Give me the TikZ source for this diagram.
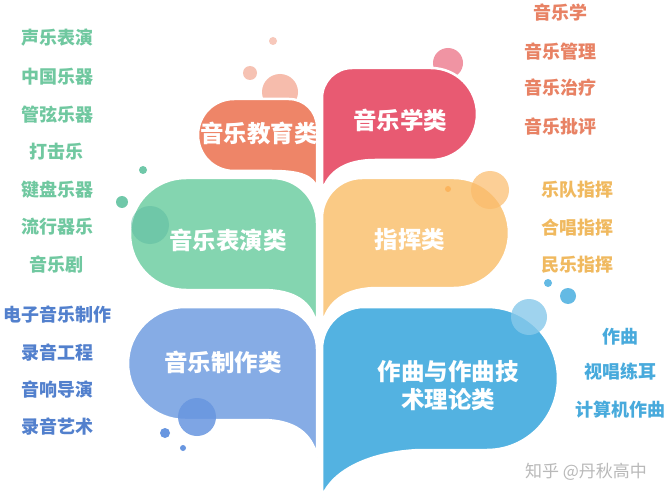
\documentclass[tikz,border=0pt]{standalone}
\usepackage{fontspec}
\setmainfont{Noto Sans CJK SC}
\definecolor{educ}{RGB}{238,133,104}
\definecolor{muxc}{RGB}{232,90,114}
\definecolor{perc}{RGB}{132,213,176}
\definecolor{conc}{RGB}{250,202,133}
\definecolor{proc}{RGB}{134,172,229}
\definecolor{comc}{RGB}{83,178,225}
\definecolor{prodot}{RGB}{104,150,224}
\definecolor{pertext}{RGB}{112,200,160}
\definecolor{protext}{RGB}{82,128,205}
\definecolor{muxtext}{RGB}{232,130,100}
\definecolor{context}{RGB}{240,185,95}
\definecolor{comtext}{RGB}{72,170,220}

\begin{document}
\begin{tikzpicture}[line cap=round,line join=round,x=1pt,y=-1pt,
	blob/.style={draw=white,line width=2.5pt},
	title/.style={text=white,font=\fontsize{23.5}{28}\selectfont\bfseries,align=center},
	item/.style={font=\fontsize{18}{20}\selectfont\bfseries}]
	\useasboundingbox (0,0) rectangle (667,500);
	\fill [color=white] (0,0) rectangle (667,500);
	% dots behind the top bubbles
	\fill [color=educ!55] (280,92) circle (18);
	\fill [color=educ!50] (250,73) circle (7);
	\fill [color=educ!45] (273,41) circle (4);
	\fill [color=muxc!65] (448,63) circle (15);
	% bubbles
	\filldraw [blob,fill=educ] (317,189) -- (317,127) .. controls (317,111.5) and (304.5,99) .. (289,99) -- (234,99) .. controls (214,99) and (198,115) .. (198,135) .. controls (198,155) and (214,171) .. (234,171) -- (272,171) .. controls (300,171) and (314,176) .. (317,189) -- cycle;
	\filldraw [blob,fill=muxc] (322,192) -- (322,98) .. controls (322,81.5) and (335.5,68) .. (352,68) -- (431,68) .. controls (456.4,68) and (477,88.6) .. (477,114) .. controls (477,139.4) and (456.4,160) .. (431,160) -- (375,160) .. controls (345,160) and (328,172) .. (322,192) -- cycle;
	\filldraw [blob,fill=perc] (317,326) -- (317,223) .. controls (317,198) and (297,178) .. (272,178) -- (186,178) .. controls (155,178) and (130,203) .. (130,234) .. controls (130,265) and (155,290) .. (186,290) -- (262,290) .. controls (295,290) and (312,302) .. (317,326) -- cycle;
	\filldraw [blob,fill=conc] (322,326) -- (322,218) .. controls (322,196) and (340,178) .. (362,178) -- (454,178) .. controls (484.4,178) and (509,202.6) .. (509,233) .. controls (509,263.4) and (484.4,288) .. (454,288) -- (378,288) .. controls (345,288) and (327,302) .. (322,326) -- cycle;
	\filldraw [blob,fill=proc] (317,457) -- (317,349) .. controls (317,326) and (298,307) .. (275,307) -- (185,307) .. controls (153.8,307) and (128,332.3) .. (128,363.5) .. controls (128,394.7) and (153.8,420) .. (185,420) -- (262,420) .. controls (295,420) and (312,434) .. (317,457) -- cycle;
	\filldraw [blob,fill=comc] (322,497) -- (322,349) .. controls (322,326) and (341,307) .. (364,307) -- (487,307) .. controls (526.5,307) and (558,339) .. (558,378.5) .. controls (558,418) and (526.5,450) .. (487,450) -- (420,450) .. controls (370,452) and (333,470) .. (322,497) -- cycle;
	% dots on top
	\fill [color=conc!80!orange,opacity=0.7] (490,190) circle (19);
	\fill [color=conc!70!orange] (448,189) circle (3);
	\fill [color=perc!70!teal,opacity=0.5] (150,225) circle (19);
	\fill [color=perc!85!teal] (122,202) circle (6);
	\fill [color=perc!85!teal] (143,170) circle (4);
	\fill [color=prodot,opacity=0.85] (197,417) circle (19);
	\fill [color=prodot] (165,433) circle (5);
	\fill [color=prodot] (183,448) circle (3);
	\fill [color=comc!70,opacity=0.8] (529,317) circle (18);
	\fill [color=comc!90] (568,296) circle (8);
	\fill [color=comc!90] (548,283) circle (4);
	% titles
	\node [title] (edu) at (259,133) {音乐教育类};
	\node [title] (mux) at (400,120) {音乐学类};
	\node [title] (per) at (228,240) {音乐表演类};
	\node [title] (con) at (410,240) {指挥类};
	\node [title] (pro) at (223,362) {音乐制作类};
	\node [title] (com) at (448,386) {作曲与作曲技\\术理论类};
	% lists
	\node [item,text=pertext] (per1) at (57,38) {声乐表演};
	\node [item,text=pertext] (per2) at (57,77) {中国乐器};
	\node [item,text=pertext] (per3) at (57,115) {管弦乐器};
	\node [item,text=pertext] (per4) at (57,152) {打击乐};
	\node [item,text=pertext] (per5) at (57,190) {键盘乐器};
	\node [item,text=pertext] (per6) at (57,227) {流行器乐};
	\node [item,text=pertext] (per7) at (57,265) {音乐剧};
	\node [item,text=protext] (pro1) at (57,315) {电子音乐制作};
	\node [item,text=protext] (pro2) at (57,353) {录音工程};
	\node [item,text=protext] (pro3) at (57,390) {音响导演};
	\node [item,text=protext] (pro4) at (57,427) {录音艺术};
	\node [item,text=muxtext] (mux1) at (560,13) {音乐学};
	\node [item,text=muxtext] (mux2) at (560,52) {音乐管理};
	\node [item,text=muxtext] (mux3) at (560,88) {音乐治疗};
	\node [item,text=muxtext] (mux4) at (560,127) {音乐批评};
	\node [item,text=context] (con1) at (577,190) {乐队指挥};
	\node [item,text=context] (con2) at (577,228) {合唱指挥};
	\node [item,text=context] (con3) at (577,265) {民乐指挥};
	\node [item,text=comtext] (com1) at (620,337) {作曲};
	\node [item,text=comtext] (com2) at (620,372) {视唱练耳};
	\node [item,text=comtext] (com3) at (620,410) {计算机作曲};
	\node [text=gray!55,font=\fontsize{17}{20}\selectfont] (mark) at (586,472) {知乎 @丹秋高中};
\end{tikzpicture}
\end{document}
